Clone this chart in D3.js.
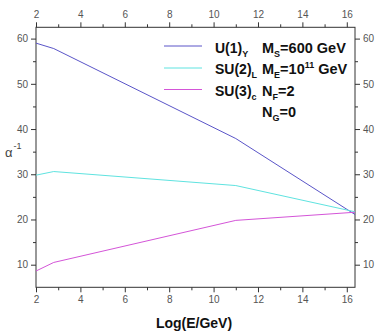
<!DOCTYPE html>
<html><head><meta charset="utf-8">
<script src="https://cdn.jsdelivr.net/npm/d3@7"></script>
<style>body{margin:0;background:#fff}svg{display:block}</style>
</head><body>
<script>
const energy = [2, 2.8, 11, 16.37];
const u1 = [59.0, 57.8, 37.9, 21.1];
const su2 = [29.8, 30.6, 27.5, 21.7];
const su3 = [8.6, 10.5, 19.8, 21.6];
const seriesNames = ["U(1)", "SU(2)", "SU(3)"];
const seriesSubs = ["Y", "L", "c"];
const xTicks = [2, 4, 6, 8, 10, 12, 14, 16];
const yTicks = [10, 20, 30, 40, 50, 60];

const W = 382, H = 336;
const svg = d3.select("body").append("svg").attr("width", W).attr("height", H);
const x = d3.scaleLinear().domain([2, 16.37]).range([36, 355]);
const y = d3.scaleLinear().domain([5, 62.5]).range([287.3, 27.3]);

const colors = ["#5a55c8", "#5fe3e0", "#d455d8"];
const data = [u1, su2, su3];

const xMinor = d3.range(3, 17, 2);
const yMinor = d3.range(15, 60, 10);
const tickCol = "#333", labCol = "#555";
const font = "'Liberation Sans', Arial, sans-serif";

function styleAxis(g){
  g.select(".domain").remove();
  g.selectAll("line").attr("stroke", tickCol);
  g.selectAll("text").attr("fill", labCol).style("font-family", font).style("font-size", "10px");
}
// major axes
svg.append("g").attr("transform", `translate(0,${y.range()[0]})`)
  .call(d3.axisBottom(x).tickValues(xTicks).tickSize(5).tickPadding(4)).call(styleAxis);
svg.append("g").attr("transform", `translate(0,${y.range()[1]})`)
  .call(d3.axisTop(x).tickValues(xTicks).tickSize(5).tickPadding(4)).call(styleAxis);
svg.append("g").attr("transform", `translate(${x.range()[0]},0)`)
  .call(d3.axisLeft(y).tickValues(yTicks).tickSize(5).tickPadding(3)).call(styleAxis);
svg.append("g").attr("transform", `translate(${x.range()[1]},0)`)
  .call(d3.axisRight(y).tickValues(yTicks).tickSize(5).tickPadding(3)).call(styleAxis);
// minor
svg.append("g").attr("transform", `translate(0,${y.range()[0]})`)
  .call(d3.axisBottom(x).tickValues(xMinor).tickSize(3).tickFormat("")).call(styleAxis);
svg.append("g").attr("transform", `translate(0,${y.range()[1]})`)
  .call(d3.axisTop(x).tickValues(xMinor).tickSize(3).tickFormat("")).call(styleAxis);
svg.append("g").attr("transform", `translate(${x.range()[0]},0)`)
  .call(d3.axisLeft(y).tickValues(yMinor).tickSize(3).tickFormat("")).call(styleAxis);
svg.append("g").attr("transform", `translate(${x.range()[1]},0)`)
  .call(d3.axisRight(y).tickValues(yMinor).tickSize(3).tickFormat("")).call(styleAxis);

// frame
svg.append("rect").attr("x", x.range()[0]).attr("y", y.range()[1])
  .attr("width", x.range()[1]-x.range()[0]).attr("height", y.range()[0]-y.range()[1])
  .attr("fill", "none").attr("stroke", tickCol).attr("stroke-width", 1);

// lines
const line = d3.line().x((d,i)=>x(energy[i])).y(d=>y(d));
data.forEach((s,k)=>{
  svg.append("path").datum(s).attr("d", line).attr("fill","none")
    .attr("stroke", colors[k]).attr("stroke-width", 1);
});

// legend
const legY = [46, 68, 89.5];
const baseY = [52.5, 74, 95.5, 117];
seriesNames.forEach((n,k)=>{
  svg.append("line").attr("x1",164).attr("x2",202).attr("y1",legY[k]).attr("y2",legY[k])
    .attr("stroke", colors[k]).attr("stroke-width",1);
  const t = svg.append("text").attr("x",215).attr("y",baseY[k])
    .style("font-family", font).style("font-size","14px").style("font-weight","bold").attr("fill","#111");
  t.append("tspan").text(n);
  t.append("tspan").attr("dy",4).style("font-size","9px").text(seriesSubs[k]);
});
const params = [
  [["M",0,14.5],["S",4,9],["=600 GeV",-4,14.5]],
  [["M",0,14.5],["E",4,9],["=10",-4,14.5],["11",-6,9],[" GeV",6,14.5]],
  [["N",0,14.5],["F",4,9],["=2",-4,14.5]],
  [["N",0,14.5],["G",4,9],["=0",-4,14.5]]
];
params.forEach((row,k)=>{
  const t = svg.append("text").attr("x",262).attr("y",baseY[k])
    .style("font-family", font).style("font-weight","bold").attr("fill","#111");
  row.forEach(p=>t.append("tspan").attr("dy",p[1]).style("font-size",p[2]+"px").text(p[0]));
});

// axis titles
svg.append("text").attr("x",194).attr("y",327.5).attr("text-anchor","middle")
  .style("font-family", font).style("font-size","14px").style("font-weight","bold").attr("fill","#111")
  .text("Log(E/GeV)");
const a = svg.append("text").attr("x",5).attr("y",157)
  .style("font-family", font).style("font-size","13px").attr("fill","#444");
a.append("tspan").text("α");
a.append("tspan").attr("dy",-8).attr("dx",1).style("font-size","9px").text("-1");
</script>
</body></html>
